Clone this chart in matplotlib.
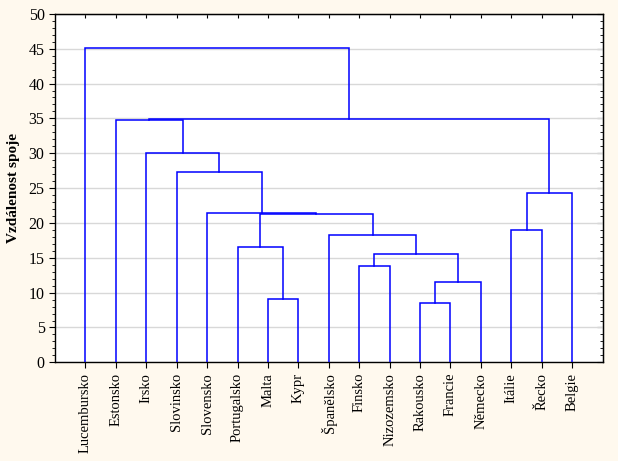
import matplotlib
matplotlib.use("Agg")
import matplotlib.pyplot as plt
from matplotlib.ticker import MultipleLocator

labels = ["Lucembursko", "Estonsko", "Irsko", "Slovinsko", "Slovensko", "Portugalsko",
          "Malta", "Kypr", "Španělsko", "Finsko", "Nizozemsko", "Rakousko", "Francie",
          "Německo", "Itálie", "Řecko", "Belgie"]
# merges: (left node, right node); new clusters get index len(labels)+k
merge_left = [11, 6, 17, 9, 20, 5, 8, 14, 22, 4, 24, 3, 2, 1, 30, 0]
merge_right = [12, 7, 13, 10, 19, 18, 21, 15, 23, 25, 16, 26, 28, 29, 27, 31]
merge_height = [8.46, 9.04, 11.48, 13.77, 15.49, 16.54, 18.22, 18.93, 21.23, 21.38,
                24.24, 27.3, 29.98, 34.72, 34.86, 45.14]

plt.rcParams['font.family'] = ['Liberation Serif', 'DejaVu Serif']
fig = plt.figure(figsize=(6.18, 4.61), dpi=100)
fig.patch.set_facecolor('#FFF9EE')
ax = fig.add_axes([0.089, 0.214, 0.886, 0.756])
ax.set_facecolor('white')

n = len(labels)
xpos = {i: i + 1 for i in range(n)}
ypos = {i: 0.0 for i in range(n)}
color = '#0000FF'
for k, (a, b, h) in enumerate(zip(merge_left, merge_right, merge_height)):
    xa, xb = xpos[a], xpos[b]
    ax.plot([xa, xa, xb, xb], [ypos[a], h, h, ypos[b]], color=color, lw=1.1,
            solid_joinstyle='miter', zorder=3)
    xpos[n + k] = (xa + xb) / 2.0
    ypos[n + k] = h

ax.set_xlim(0, 18)
ax.set_ylim(0, 50)
ax.yaxis.set_major_locator(MultipleLocator(5))
ax.yaxis.set_minor_locator(MultipleLocator(1))
ax.grid(axis='y', which='major', color='#D8D8D8', lw=1.0, zorder=0)
ax.set_axisbelow(True)
ax.set_xticks(range(1, n + 1))
ax.set_xticklabels(labels, rotation=90, fontsize=10.5)
ax.tick_params(axis='x', which='both', direction='out', length=4)
ax.tick_params(axis='y', which='major', direction='out', length=4, labelsize=11.5)
ax.tick_params(axis='y', which='minor', direction='out', length=2)

# top ticks inward
top = ax.secondary_xaxis('top')
top.set_xticks(range(1, n + 1))
top.tick_params(direction='in', length=3, labeltop=False)
top.set_xticklabels([])
# right ticks inward
right = ax.secondary_yaxis('right')
right.yaxis.set_major_locator(MultipleLocator(5))
right.yaxis.set_minor_locator(MultipleLocator(1))
right.tick_params(which='major', direction='in', length=4, labelright=False)
right.tick_params(which='minor', direction='in', length=2)
right.set_yticklabels([])

for s in ax.spines.values():
    s.set_color('black')
    s.set_linewidth(1.0)
ax.set_ylabel('Vzdálenost spoje', fontsize=11, fontweight='bold', labelpad=6)

fig.savefig('out.png', dpi=100, facecolor=fig.get_facecolor())
